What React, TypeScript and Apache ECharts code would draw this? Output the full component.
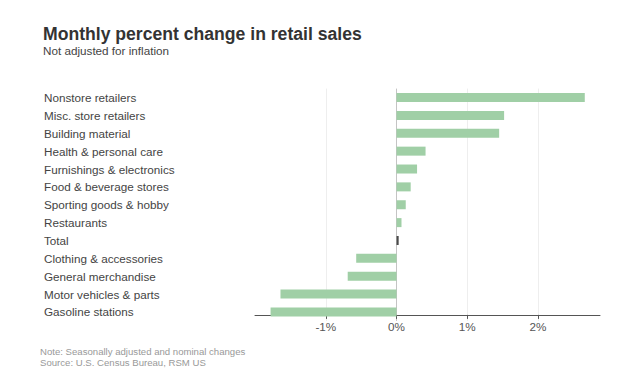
import React, { useEffect, useRef } from "react";
import * as echarts from "echarts";

const categories = [
  "Nonstore retailers",
  "Misc. store retailers",
  "Building material",
  "Health & personal care",
  "Furnishings & electronics",
  "Food & beverage stores",
  "Sporting goods & hobby",
  "Restaurants",
  "Total",
  "Clothing & accessories",
  "General merchandise",
  "Motor vehicles & parts",
  "Gasoline stations",
];
const values = [2.66, 1.52, 1.45, 0.41, 0.29, 0.2, 0.13, 0.07, 0.03, -0.57, -0.69, -1.64, -1.78];
const tickValues = [-1, 0, 1, 2];
const gridValues = [-1, 1, 2];
const highlightCategory = "Total";

const FONT = "Arial, 'Liberation Sans', sans-serif";
const GREEN = "#a0cfa6";

export default function App() {
  const ref = useRef<HTMLDivElement>(null);
  useEffect(() => {
    if (!ref.current) return;
    const chart = echarts.init(ref.current, null, { renderer: "svg" });
    chart.setOption({
      animation: false,
      backgroundColor: "#ffffff",
      textStyle: { fontFamily: FONT },
      grid: { left: 255, right: 30, top: 88.6, bottom: 57.1, containLabel: false },
      xAxis: {
        type: "value",
        min: -2,
        max: 2.875,
        offset: -6,
        axisLine: { show: true, lineStyle: { color: "#555", width: 1 } },
        axisTick: { show: true, customValues: tickValues, length: 4, lineStyle: { color: "#555" } },
        axisLabel: {
          customValues: tickValues,
          formatter: (v: number) => `${v}%`,
          color: "#555",
          fontSize: 11.7,
          fontFamily: FONT,
          margin: 6,
        },
        splitLine: { show: false },
      },
      yAxis: {
        type: "category",
        inverse: true,
        data: categories,
        axisLine: { show: false, onZero: false },
        axisTick: { show: false },
        axisLabel: {
          align: "left",
          margin: 211,
          color: "#444",
          fontSize: 11.7,
          fontFamily: FONT,
          padding: [0, 0, 4, 0],
        },
      },
      series: [
        {
          type: "bar",
          barWidth: 9,
          data: values.map((v, i) => ({
            value: v,
            itemStyle: { color: categories[i] === highlightCategory ? "#4a4a4a" : GREEN },
          })),
          markLine: {
            silent: true,
            symbol: ["none", "none"],
            label: { show: false },
            z: 0,
            data: [
              ...gridValues.map((g) => ({ xAxis: g, lineStyle: { color: "#eeeeee", width: 1, type: "solid" } })),
              { xAxis: 0, lineStyle: { color: "#c4c4c4", width: 1, type: "solid" } },
            ],
          },
        },
      ],
      graphic: [
        {
          type: "text",
          x: 43,
          y: 33.9,
          style: { text: "Monthly percent change in retail sales", font: `bold 17.6px ${FONT}`, fill: "#333", verticalAlign: "middle" },
        },
        {
          type: "text",
          x: 43,
          y: 50,
          style: { text: "Not adjusted for inflation", font: `11.7px ${FONT}`, fill: "#444", verticalAlign: "middle" },
        },
        {
          type: "text",
          x: 40,
          y: 351.7,
          style: { text: "Note: Seasonally adjusted and nominal changes", font: `9.6px ${FONT}`, fill: "#999", verticalAlign: "middle" },
        },
        {
          type: "text",
          x: 40,
          y: 362.7,
          style: { text: "Source: U.S. Census Bureau, RSM US", font: `9.6px ${FONT}`, fill: "#999", verticalAlign: "middle" },
        },
      ],
    });
    return () => chart.dispose();
  }, []);
  return <div ref={ref} style={{ position: "absolute", left: 0, top: 0, width: 630, height: 378 }} />;
}
